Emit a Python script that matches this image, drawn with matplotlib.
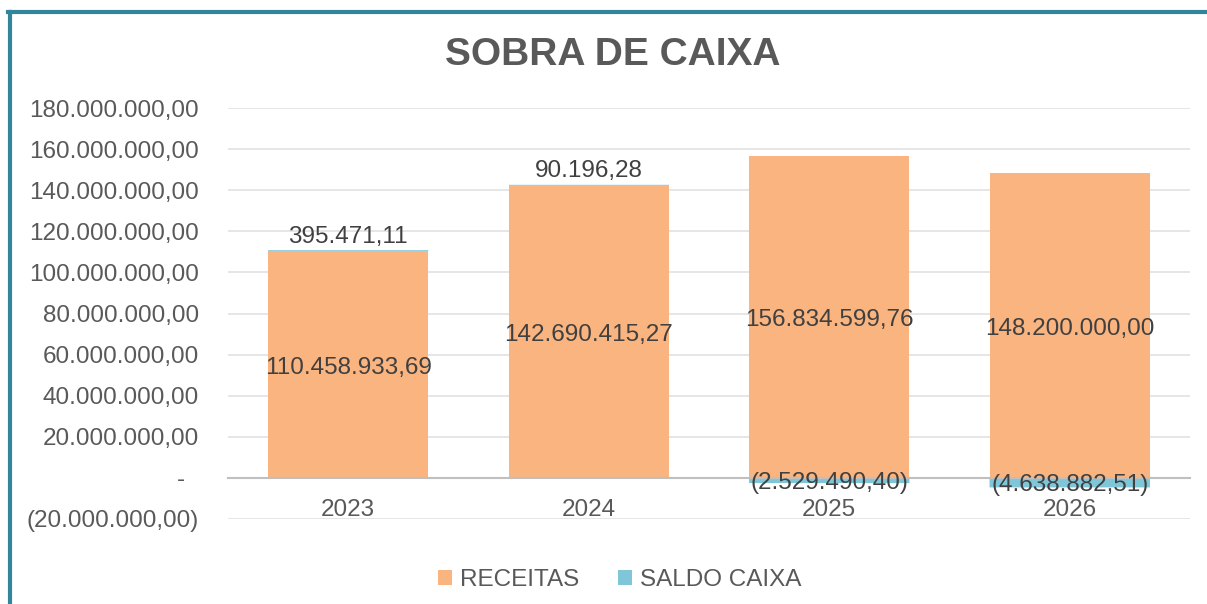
import matplotlib
matplotlib.use("Agg")
import matplotlib.pyplot as plt
from matplotlib.patches import Patch
from matplotlib.lines import Line2D
import numpy as np

years = ["2023", "2024", "2025", "2026"]
receitas = [110458933.69, 142690415.27, 156834599.76, 148200000.00]
saldo = [395471.11, 90196.28, -2529490.40, -4638882.51]
yticks = [-20e6, 0, 20e6, 40e6, 60e6, 80e6, 100e6, 120e6, 140e6, 160e6, 180e6]

C_REC = "#F9B47F"
C_SAL = "#80C6D9"
TXT = "#595959"
FONT = "Liberation Sans"


def br(v):
    s = f"{abs(v):,.2f}".replace(",", "X").replace(".", ",").replace("X", ".")
    return f"({s})" if v < 0 else s


def tick_fmt(v):
    if v == 0:
        return "-  "
    return br(v)


plt.rcParams["font.family"] = [FONT, "DejaVu Sans"]
fig = plt.figure(figsize=(12.07, 6.04), dpi=100)
fig.patch.set_facecolor("white")

ax = fig.add_axes([228 / 1207, 1 - 519 / 604, (1190 - 228) / 1207, (519 - 108) / 604])
x = np.arange(len(years))
w = 0.667

ax.bar(x, receitas, width=w, color=C_REC, zorder=3)
sal_bottom = [r if s > 0 else 0 for r, s in zip(receitas, saldo)]
sal_bars = ax.bar(x, saldo, width=w, bottom=sal_bottom, color=C_SAL, zorder=3,
                  linewidth=0)
for b in sal_bars:
    b.set_snap(False)

for i in range(len(years)):
    ax.text(x[i], receitas[i] / 2 - 1.8e6, br(receitas[i]), ha="center", va="center",
            fontsize=17.5, color="#404040", zorder=5)
    if saldo[i] > 0:
        ax.text(x[i], receitas[i] + saldo[i] + 1.0e6, br(saldo[i]), ha="center",
                va="bottom", fontsize=17.5, color="#404040", zorder=5)
    else:
        ax.text(x[i], saldo[i] / 2 - 1.2e6, br(saldo[i]), ha="center", va="center",
                fontsize=17.5, color="#404040", zorder=5)

ax.set_ylim(-20e6, 180e6)
ax.set_xlim(-0.5, len(years) - 0.5)
ax.set_yticks(yticks)
ax.set_yticklabels([tick_fmt(v) for v in yticks])
ax.tick_params(axis="y", length=0, pad=21, labelsize=17.5, labelcolor=TXT)
ax.set_xticks(x)
ax.set_xticklabels(years)
ax.tick_params(axis="x", length=0, pad=15, labelsize=17.5, labelcolor=TXT)
ax.grid(axis="y", color="#e4e4e4", linewidth=1.3, zorder=0)
for sp in ["top", "right", "left"]:
    ax.spines[sp].set_visible(False)
ax.spines["bottom"].set_position(("data", 0))
ax.spines["bottom"].set_color("#bfbfbf")
ax.spines["bottom"].set_linewidth(1.5)
ax.spines["bottom"].set_zorder(4)
ax.set_facecolor("none")

fig.text(613 / 1207, 1 - 55 / 604, "SOBRA DE CAIXA", ha="center", va="center",
         fontsize=28, fontweight="bold", color=TXT)

handles = [Patch(facecolor=C_REC, edgecolor="none"), Patch(facecolor=C_SAL, edgecolor="none")]
leg = fig.legend(handles, ["RECEITAS", "SALDO CAIXA"], loc="center",
                 bbox_to_anchor=(620 / 1207, 1 - 580 / 604), ncol=2, frameon=False,
                 fontsize=17.5, handlelength=0.55, handleheight=0.55, handletextpad=0.35,
                 columnspacing=1.6)
for t in leg.get_texts():
    t.set_color(TXT)

# teal frame (left and top edges visible)
fig.add_artist(Line2D([9.5 / 1207, 9.5 / 1207], [0, 1 - 11.5 / 604], color="#31869B",
                      linewidth=3, transform=fig.transFigure))
fig.add_artist(Line2D([8 / 1207, 1], [1 - 11.5 / 604, 1 - 11.5 / 604], color="#31869B",
                      linewidth=3, transform=fig.transFigure))

fig.savefig("out.png", dpi=100, facecolor="white")
